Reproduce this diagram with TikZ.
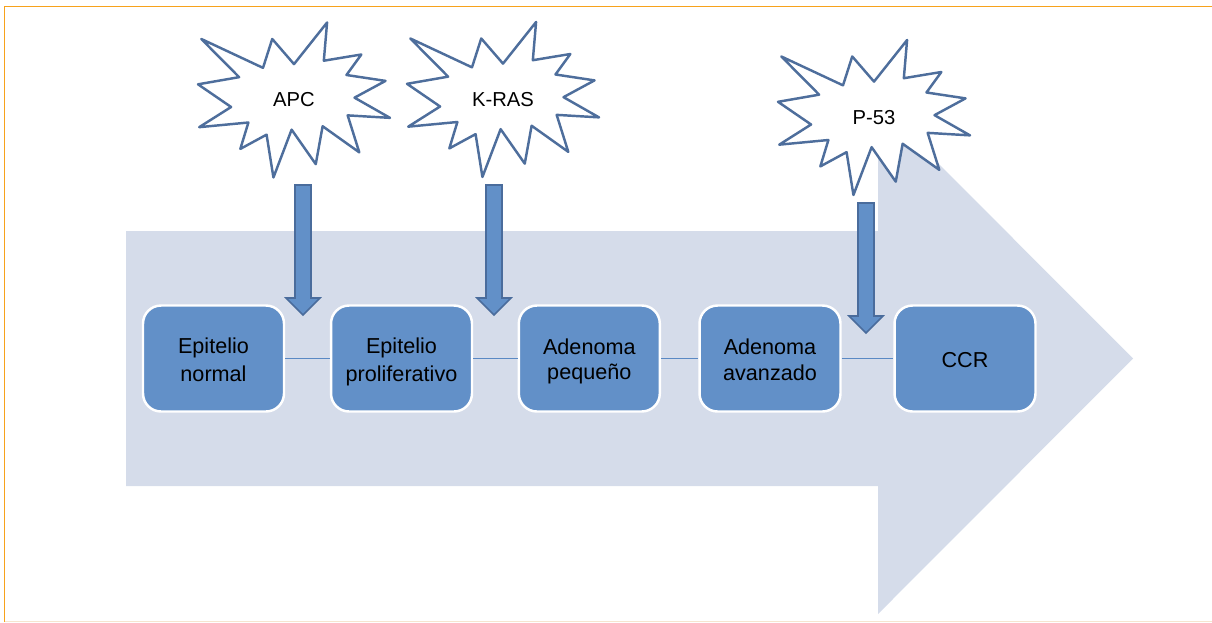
\documentclass[tikz,border=0pt]{standalone}
\usepackage{fontspec}
\setmainfont{Liberation Sans}
\usetikzlibrary{calc}

\definecolor{flowbg}{HTML}{D5DCEA}
\definecolor{stagefill}{HTML}{6290C8}
\definecolor{burstline}{HTML}{4E6E9C}
\definecolor{arrowline}{HTML}{4A6C9C}
\definecolor{linkline}{HTML}{5A89C4}
\definecolor{frameorange}{HTML}{F7A21C}
\definecolor{framepeach}{HTML}{F6E5CF}

% same line box for every stage text
\newcommand\ls{\rule[-2pt]{0pt}{14.4pt}}

\tikzset{
  stage/.style={draw=white, line width=1.4pt, fill=stagefill, rounded corners=0.36cm,
    minimum width=2.82cm, minimum height=2.12cm, align=center, inner sep=0pt,
    font=\fontsize{12.3}{14.4}\selectfont},
  burst/.style={draw=burstline, fill=white, line width=1.4pt, line join=round},
  burstlabel/.style={inner sep=0pt, font=\fontsize{11.5}{13}\selectfont},
  blockarrow/.style={draw=arrowline, fill=stagefill, line width=0.9pt, line join=miter},
  link/.style={draw=linkline, line width=0.6pt}
}

% explosion outline, 216 x 216 grid
\newcommand\burstpath{(108,58) -- (145.22,0) -- (141.55,53.25) -- (183.8,44.57) -- (167.02,73.15)
  -- (210.97,81.37) -- (176.07,104.75) -- (216,132.9) -- (168.37,129.42) -- (181.45,180.95)
  -- (140.2,144.57) -- (132.47,197.37) -- (105.32,149.35) -- (84.85,216) -- (77.15,156.27)
  -- (47.62,176.17) -- (56.67,139.37) -- (1.35,145.87) -- (37.22,117.75) -- (0,86.15)
  -- (46.27,76.17) -- (3.7,22.95) -- (73.12,63.2) -- (83.52,22.95) -- cycle}

% #1,#2 top left corner, #3 name, #4 label
\newcommand\burstat[4]{%
  \draw[burst, shift={(#1,#2)}, xscale=192/216, yscale=155/216] \burstpath;
  \node[burstlabel] (#3) at (#1+96,#2+77.5) {#4};
}

% block arrow from #1 down to tip #2
\newcommand\hitarrow[2]{%
  \draw[blockarrow] ($(#1)+(-8,0)$) -- ($(#1)+(8,0)$) -- ($(#2)+(8,-17)$) -- ($(#2)+(17,-17)$)
    -- (#2) -- ($(#2)+(-17,-17)$) -- ($(#2)+(-8,-17)$) -- cycle;
}

\begin{document}
\begin{tikzpicture}[x=0.02cm, y=-0.02cm]
    \useasboundingbox (0,0) rectangle (1212,622);

    % frame
    \draw[framepeach, line width=0.85pt] (4.7,621.5) -- (1212,621.5);
    \draw[frameorange, line width=0.85pt] (1212,6.7) -| (4.7,622);

    % background arrow
    \fill[flowbg] (126,231) -- (878,231) -- (878,103) -- (1133,358.5) -- (878,614)
        -- (878,486) -- (126,486) -- cycle;

    % stages
    \node[stage] (normal) at (213.5,358.5) {\ls Epitelio\\\ls normal};
    \node[stage] (prolif) at (401.5,358.5) {\ls Epitelio\\\ls proliferativo};
    \node[stage] (small) at (589.3,358.5) {\ls Adenoma\\\ls peque\~no};
    \node[stage] (advanced) at (770,358.5) {\ls Adenoma\\\ls avanzado};
    \node[stage] (ccr) at (965,358.5) {\ls CCR};

    \draw[link] (normal.east) -- (prolif.west);
    \draw[link] (prolif.east) -- (small.west);
    \draw[link] (small.east) -- (advanced.west);
    \draw[link] (advanced.east) -- (ccr.west);

    % mutations
    \burstat{198}{22.5}{apc}{APC}
    \burstat{407}{22}{kras}{K-RAS}
    \burstat{778}{40}{p53}{P-53}

    \coordinate (apcfrom) at (303,185);
    \coordinate (apcto) at (303,315);
    \coordinate (krasfrom) at (494,185);
    \coordinate (krasto) at (494,315);
    \coordinate (p53from) at (866,203);
    \coordinate (p53to) at (866,333);

    \hitarrow{apcfrom}{apcto}
    \hitarrow{krasfrom}{krasto}
    \hitarrow{p53from}{p53to}
\end{tikzpicture}
\end{document}
